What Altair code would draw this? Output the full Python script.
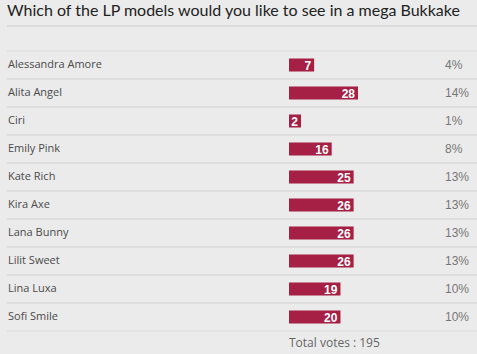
import altair as alt
import pandas as pd

title_text = "Which of the LP models would you like to see in a mega Bukkake"
names = ["Alessandra Amore", "Alita Angel", "Ciri", "Emily Pink", "Kate Rich",
         "Kira Axe", "Lana Bunny", "Lilit Sweet", "Lina Luxa", "Sofi Smile"]
votes = [7, 28, 2, 16, 25, 26, 26, 26, 19, 20]
pcts = [4, 14, 1, 8, 13, 13, 13, 13, 10, 10]
total_label = "Total votes : 195"

df = pd.DataFrame({"name": names, "votes": votes, "pct": pcts,
                   "pct_label": [f"{p}%" for p in pcts]})

W, H = 477, 354
yscale = alt.Scale(domain=names, range=[51, 331], paddingInner=0, paddingOuter=0)
xscale = alt.Scale(domain=[0, 14], range=[296.6, 358])

base = alt.Chart(df)

sep_top = base.mark_rule(color="#d9d9d9", strokeWidth=1).encode(
    y=alt.Y("name:N", scale=yscale, axis=None, bandPosition=0),
    x=alt.value(7), x2=alt.value(W))
sep_bot = base.mark_rule(color="#d9d9d9", strokeWidth=1).encode(
    y=alt.Y("name:N", scale=yscale, axis=None, bandPosition=1),
    x=alt.value(7), x2=alt.value(W))

bars = base.mark_bar(color="#a61f44", height=13).encode(
    y=alt.Y("name:N", scale=yscale, axis=None),
    x=alt.X("pct:Q", scale=xscale, axis=None, stack=None),
    x2=alt.value(289))

vote_txt = base.mark_text(align="right", baseline="middle", dx=-3, dy=0.5,
                          font="Liberation Sans", fontWeight="bold",
                          fontSize=12, color="white").encode(
    y=alt.Y("name:N", scale=yscale, axis=None),
    x=alt.X("pct:Q", scale=xscale, axis=None, stack=None),
    text="votes:Q")

name_txt = base.mark_text(align="left", baseline="middle", font="Open Sans",
                          fontSize=11, color="#4a4a4a").encode(
    y=alt.Y("name:N", scale=yscale, axis=None),
    x=alt.value(8), text="name:N")

pct_txt = base.mark_text(align="left", baseline="middle", font="Liberation Sans",
                         fontSize=12, color="#777777").encode(
    y=alt.Y("name:N", scale=yscale, axis=None),
    x=alt.value(445), text="pct_label:N")

hdr = pd.DataFrame({"t": [title_text]})
title = alt.Chart(hdr).mark_text(align="left", baseline="alphabetic",
                                 font="Lato", fontSize=16, color="#222222").encode(
    x=alt.value(7), y=alt.value(16), text="t:N")
title_rule = alt.Chart(hdr).mark_rule(color="#cbcbcb").encode(
    x=alt.value(7), x2=alt.value(W), y=alt.value(26))

tot = pd.DataFrame({"t": [total_label]})
total = alt.Chart(tot).mark_text(align="left", baseline="middle", font="Open Sans",
                                 fontSize=12, color="#666666").encode(
    x=alt.value(289), y=alt.value(343), text="t:N")

chart = alt.layer(sep_top, sep_bot, bars, vote_txt, name_txt, pct_txt,
                  title, title_rule, total).properties(
    width=W, height=H, autosize=alt.AutoSizeParams(type="none"), padding=0,
    background="#ebebeb"
).configure_view(stroke=None)

chart.save("out.html", embed_options={"renderer": "svg", "actions": False})
